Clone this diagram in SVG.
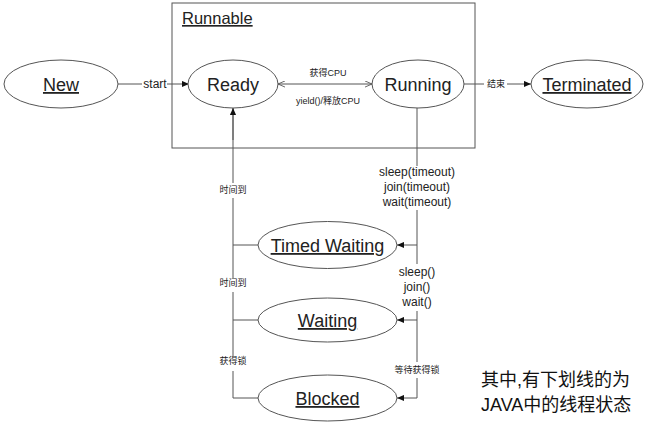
<svg xmlns="http://www.w3.org/2000/svg" width="646" height="428" viewBox="0 0 646 428">
<defs>
<style>
.node{fill:#fff;stroke:#555;stroke-width:1}
.nt{font-family:"Liberation Sans",Arial,sans-serif;font-size:18px;fill:#222;text-anchor:middle;text-decoration:underline}
.nt2{font-family:"Liberation Sans",Arial,sans-serif;font-size:18px;fill:#222;text-anchor:middle}
.ln{fill:none;stroke:#555;stroke-width:1}
.lb{font-family:"Liberation Sans","Noto Sans CJK SC",sans-serif;font-size:12px;fill:#222;text-anchor:middle}
.cn{font-family:"Liberation Sans","Noto Sans CJK SC",sans-serif;font-size:9px;fill:#222;text-anchor:middle}
.big{font-family:"Liberation Sans","Noto Sans CJK SC",sans-serif;font-size:18px;fill:#111}
</style>
<marker id="ah" viewBox="0 0 8 8" refX="8" refY="4" markerWidth="7" markerHeight="7" orient="auto" markerUnits="userSpaceOnUse">
<path d="M0,0.5 L8,4 L0,7.5 Z" fill="#111"/>
</marker>
<marker id="oa" viewBox="0 0 8 8" refX="8" refY="4" markerWidth="7" markerHeight="7" orient="auto-start-reverse" markerUnits="userSpaceOnUse">
<path d="M0,0.5 L8,4 L0,7.5" fill="none" stroke="#555" stroke-width="1"/>
</marker>
</defs>
<rect width="646" height="428" fill="#fff"/>

<g id="runnable">
<rect x="172" y="3" width="303" height="145" fill="none" stroke="#555" stroke-width="1"/>
<text x="182" y="24" font-family="'Liberation Sans',Arial,sans-serif" font-size="16.5" fill="#222" text-decoration="underline">Runnable</text>
</g>

<g id="connectors">
<line class="ln" x1="118" y1="84" x2="142" y2="84"/>
<line class="ln" x1="167" y1="84" x2="189" y2="84" marker-end="url(#ah)"/>
<text class="lb" x="155" y="88">start</text>
<line class="ln" x1="278" y1="84" x2="372" y2="84" marker-start="url(#oa)" marker-end="url(#oa)"/>
<text class="cn" x="328" y="76">获得CPU</text>
<text class="cn" x="328" y="104">yield()/释放CPU</text>
<line class="ln" x1="463" y1="84" x2="484" y2="84"/>
<line class="ln" x1="507" y1="84" x2="531" y2="84" marker-end="url(#ah)"/>
<text class="cn" x="496" y="87">结束</text>

<path class="ln" d="M417,108 V166 M417,210 V264 M417,311 V362 M417,378 V398"/>
<line class="ln" x1="417" y1="245" x2="397" y2="245" marker-end="url(#ah)"/>
<line class="ln" x1="417" y1="320" x2="397" y2="320" marker-end="url(#ah)"/>
<line class="ln" x1="417" y1="398" x2="397" y2="398" marker-end="url(#ah)"/>
<text class="lb" x="417" y="176">sleep(timeout)</text>
<text class="lb" x="417" y="191">join(timeout)</text>
<text class="lb" x="417" y="206">wait(timeout)</text>
<text class="lb" x="417" y="276">sleep()</text>
<text class="lb" x="417" y="291">join()</text>
<text class="lb" x="417" y="306">wait()</text>
<text class="cn" x="417" y="373">等待获得锁</text>

<path class="ln" d="M258,398 H233 V371 M233,356 V292 M233,278 V198 M233,183 V108"/>
<line class="ln" x1="233" y1="140" x2="233" y2="108" marker-end="url(#ah)"/>
<path class="ln" d="M233,245 H258 M233,320 H258"/>
<text class="cn" x="233" y="193">时间到</text>
<text class="cn" x="233" y="286">时间到</text>
<text class="cn" x="233" y="364">获得锁</text>
</g>

<g id="new"><ellipse class="node" cx="61" cy="84" rx="57" ry="24"/><text class="nt" x="61" y="91">New</text></g>
<g id="ready"><ellipse class="node" cx="233" cy="84" rx="45" ry="24"/><text class="nt2" x="233" y="91">Ready</text></g>
<g id="running"><ellipse class="node" cx="418" cy="84" rx="46" ry="24"/><text class="nt2" x="418" y="91">Running</text></g>
<g id="terminated"><ellipse class="node" cx="587" cy="84" rx="56" ry="24"/><text class="nt" x="587" y="91">Terminated</text></g>
<g id="timed-waiting"><ellipse class="node" cx="327.5" cy="245" rx="69.5" ry="23.5"/><text class="nt" x="327.5" y="252">Timed Waiting</text></g>
<g id="waiting"><ellipse class="node" cx="327.5" cy="320" rx="69.5" ry="22"/><text class="nt" x="327.5" y="327">Waiting</text></g>
<g id="blocked"><ellipse class="node" cx="327.5" cy="398" rx="69.5" ry="23"/><text class="nt" x="327.5" y="405">Blocked</text></g>

<g id="note">
<text class="big" x="481" y="386">其中,有下划线的为</text>
<text class="big" x="481" y="411">JAVA中的线程状态</text>
</g>
</svg>
